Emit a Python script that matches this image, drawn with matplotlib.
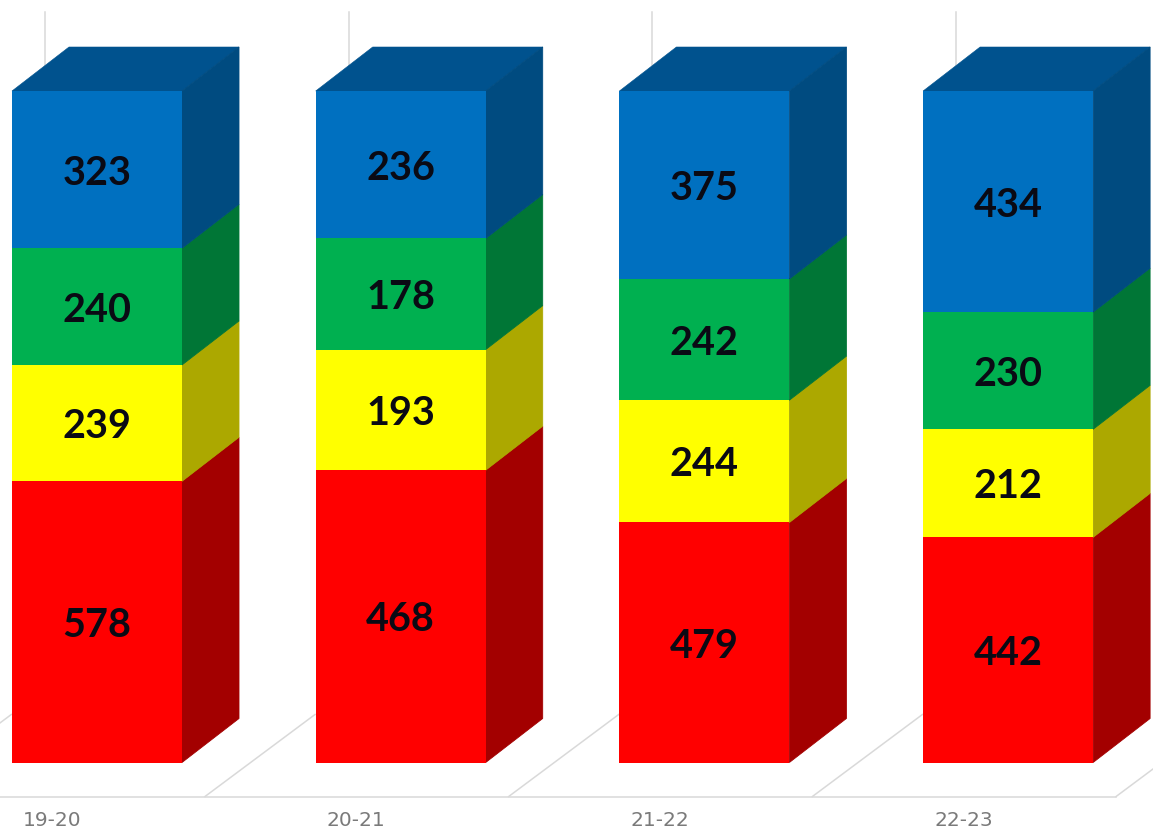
import matplotlib
matplotlib.use("Agg")
import matplotlib.pyplot as plt
from matplotlib.patches import Polygon
import numpy as np

categories = ["19-20", "20-21", "21-22", "22-23"]
red_values = [578, 468, 479, 442]
yellow_values = [239, 193, 244, 212]
green_values = [240, 178, 242, 230]
blue_values = [323, 236, 375, 434]

series = [red_values, yellow_values, green_values, blue_values]
front_colors = ["#FF0000", "#FFFF00", "#00B050", "#0070C0"]
side_colors = ["#A30000", "#ACA800", "#007636", "#004B80"]
top_color = "#00528E"

W, H = 1153, 833
STEP = 303.7      # px between categories
CX0 = 97.0        # px centre of the first bar
Y0, Y1 = 762.5, 91.0  # px of 0 % and 100 %
UNIT = Y0 - Y1

fig = plt.figure(figsize=(W / 100, H / 100), dpi=100, facecolor="white")
ax = fig.add_axes([0, 0, 1, 1])
ax.set_xlim(-CX0 / STEP, (W - CX0) / STEP)
ax.set_ylim((Y0 - H) / UNIT, Y0 / UNIT)
ax.axis("off")

x = np.arange(len(categories))
totals = np.sum(series, axis=0)
shares = np.array(series) / totals
width = 170 / STEP
dx, dy = 57 / STEP, 44 / UNIT

grid = "#D9D9D9"
floor_y = (Y0 - 796.5) / UNIT
ax.plot([ax.get_xlim()[0], (1116 - CX0) / STEP], [floor_y, floor_y], color=grid, lw=1.1, zorder=1)
for i in range(-1, len(categories)):
    x_start = i + (205 - CX0) / STEP
    ax.plot([x_start, x_start + 110 / STEP], [floor_y, floor_y + 82 / UNIT],
            color=grid, lw=1.1, zorder=1)
for xi in x:
    gx = xi - width / 2 + 33 / STEP
    ax.plot([gx, gx], [1 + 25 / UNIT, 1 + 79 / UNIT], color=grid, lw=1.1, zorder=1)

bottom = np.zeros(len(categories))
for k, share in enumerate(shares):
    ax.bar(x, share, width=width, bottom=bottom, color=front_colors[k], lw=0, zorder=3)
    for xi, b, s in zip(x, bottom, share):
        xr = xi + width / 2
        ax.add_patch(Polygon([(xr, b), (xr + dx, b + dy), (xr + dx, b + s + dy), (xr, b + s)],
                             closed=True, fc=side_colors[k], ec=side_colors[k], lw=0.6, zorder=2.5))
    for xi, b, s, v in zip(x, bottom, share, series[k]):
        ax.annotate(str(v), (xi, b + s / 2), xytext=(0, -2.6), textcoords="offset points",
                    ha="center", va="center", fontsize=28.5, fontweight="bold",
                    family="Lato", color="#0A0A14", zorder=5)
    bottom = bottom + share

for xi in x:
    xl = xi - width / 2
    ax.add_patch(Polygon([(xl, 1), (xl + dx, 1 + dy), (xl + width + dx, 1 + dy), (xl + width, 1)],
                         closed=True, fc=top_color, ec=top_color, lw=0.4, zorder=2.4))

label_y = (Y0 - 821) / UNIT
for xi, c in zip(x, categories):
    ax.text(xi - 44.5 / STEP, label_y, c, ha="center", va="center", fontsize=14.5,
            family="DejaVu Sans", color="#7A7A7A")

fig.savefig("out.png", dpi=100, facecolor="white")
